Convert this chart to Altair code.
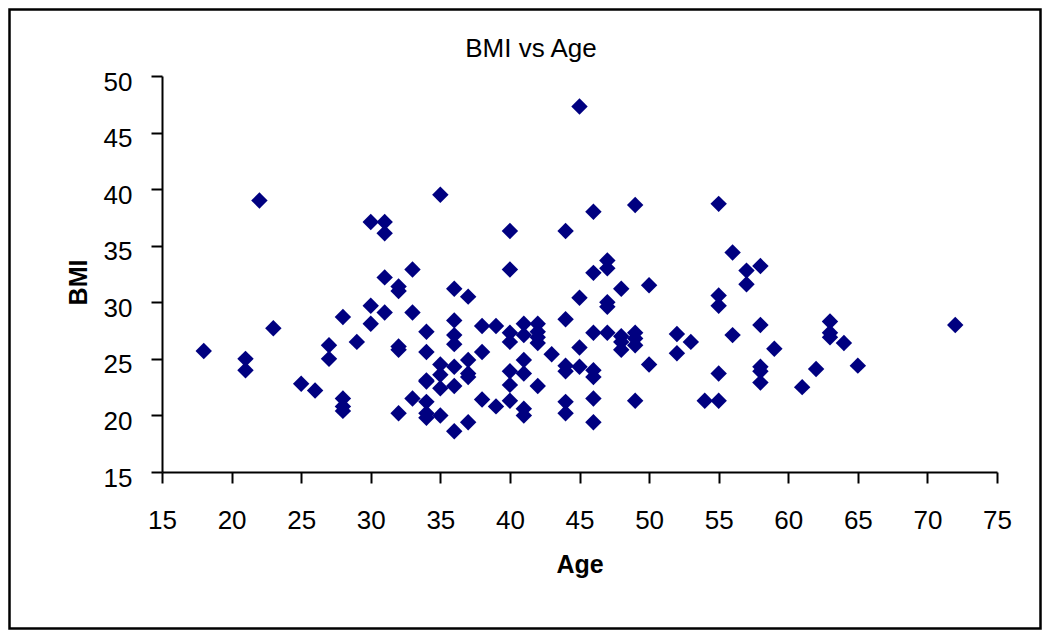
import altair as alt
import pandas as pd

# ---- data ----
age = [18,
       21, 21,
       22,
       23,
       25,
       26,
       27, 27,
       28, 28, 28, 28,
       29,
       30, 30, 30,
       31, 31, 31, 31,
       32, 32, 32, 32, 32,
       33, 33, 33,
       34, 34, 34, 34, 34, 34, 34,
       35, 35, 35, 35, 35,
       36, 36, 36, 36, 36, 36, 36,
       37, 37, 37, 37, 37,
       38, 38, 38,
       39, 39,
       40, 40, 40, 40, 40, 40, 40,
       41, 41, 41, 41, 41, 41,
       42, 42, 42, 42, 42,
       43,
       44, 44, 44, 44, 44, 44,
       45, 45, 45, 45,
       46, 46, 46, 46, 46, 46, 46,
       47, 47, 47, 47, 47,
       48, 48, 48, 48,
       49, 49, 49, 49, 49,
       50, 50,
       52, 52,
       53,
       54,
       55, 55, 55, 55, 55,
       56, 56,
       57, 57,
       58, 58, 58, 58, 58,
       59,
       61,
       62,
       63, 63, 63,
       64,
       65,
       72]

bmi = [25.7,
       25.0, 24.0,
       39.0,
       27.7,
       22.8,
       22.2,
       26.2, 25.0,
       28.7, 21.5, 20.8, 20.4,
       26.5,
       37.1, 29.7, 28.1,
       37.1, 36.1, 32.2, 29.1,
       31.4, 31.0, 26.1, 25.8, 20.2,
       32.9, 29.1, 21.5,
       27.4, 25.6, 23.1, 23.0, 21.2, 20.2, 19.8,
       39.5, 24.5, 23.6, 22.4, 20.0,
       31.2, 28.4, 27.1, 26.3, 24.3, 22.6, 18.6,
       30.5, 24.9, 23.7, 23.4, 19.4,
       27.9, 25.6, 21.4,
       27.9, 20.8,
       36.3, 32.9, 27.3, 26.5, 23.9, 22.7, 21.3,
       28.1, 27.1, 24.9, 23.7, 20.6, 20.0,
       28.1, 27.4, 26.9, 26.4, 22.6,
       25.4,
       36.3, 28.5, 24.4, 23.9, 21.2, 20.2,
       47.3, 30.4, 26.0, 24.3,
       38.0, 32.6, 27.3, 24.0, 23.4, 21.5, 19.4,
       33.7, 33.0, 30.0, 29.6, 27.3,
       31.2, 27.0, 26.5, 25.8,
       38.6, 27.3, 26.8, 26.2, 21.3,
       31.5, 24.5,
       27.2, 25.5,
       26.5,
       21.3,
       38.7, 30.6, 29.7, 23.7, 21.3,
       34.4, 27.1,
       32.8, 31.6,
       33.2, 28.0, 24.3, 23.9, 22.9,
       25.9,
       22.5,
       24.1,
       28.3, 27.3, 26.9,
       26.4,
       24.4,
       28.0]

x_ticks = [15, 20, 25, 30, 35, 40, 45, 50, 55, 60, 65, 70, 75]
y_ticks = [15, 20, 25, 30, 35, 40, 45, 50]
chart_title = "BMI vs Age"

df = pd.DataFrame({"Age": age, "BMI": bmi})
one = pd.DataFrame({"f": [0]})

FONT = "Liberation Sans, Arial, Helvetica, sans-serif"
PL, PT, W, H = 154, 68, 835, 396
TW, TH = 1034, 622

points = alt.Chart(df).mark_point(
    shape="diamond", filled=True, size=270, color="#000080",
    opacity=1, strokeWidth=0
).encode(
    x=alt.X("Age:Q",
            scale=alt.Scale(domain=[15, 75], nice=False, zero=False),
            axis=alt.Axis(values=x_ticks, title="Age", labelPadding=24,
                          labelFlush=False, labelOverlap=False,
                          titleY=100, titleBaseline="alphabetic")),
    y=alt.Y("BMI:Q",
            scale=alt.Scale(domain=[15, 50], nice=False, zero=False),
            axis=alt.Axis(values=y_ticks, title="BMI", labelPadding=19,
                          labelOffset=6, labelOverlap=False,
                          titleX=-76, titleY=206, titleAngle=270,
                          titleAlign="center", titleBaseline="alphabetic")),
)

frame = alt.Chart(one).mark_rect(
    fillOpacity=0, stroke="black", strokeWidth=2.5
).encode(
    x=alt.value(1.5 - PL), x2=alt.value(TW - 1.5 - PL),
    y=alt.value(1.5 - PT), y2=alt.value(TH - 1.5 - PT),
)

title = alt.Chart(one).mark_text(
    font=FONT, fontSize=26, fontWeight="normal", color="black",
    align="center", baseline="alphabetic"
).encode(
    text=alt.value(chart_title),
    x=alt.value(369), y=alt.value(-19),
)

chart = alt.layer(frame, title, points).properties(
    width=W, height=H,
    autosize=alt.AutoSizeParams(type="none"),
    padding={"left": PL, "top": PT, "right": TW - PL - W, "bottom": TH - PT - H},
).configure_view(strokeWidth=0).configure_axis(
    domainColor="black", domainWidth=2, tickColor="black", tickWidth=2,
    tickSize=11, grid=False,
    labelFont=FONT, labelFontSize=26, labelColor="black",
    titleFont=FONT, titleFontSize=25, titleFontWeight="bold",
    titleColor="black",
)

chart.save("out.html", embed_options={"renderer": "svg", "actions": False})
